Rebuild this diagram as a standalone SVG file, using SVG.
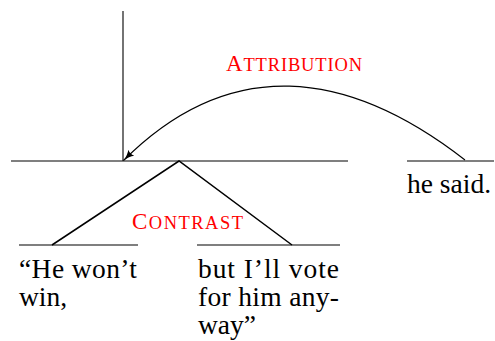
<svg xmlns="http://www.w3.org/2000/svg" width="495" height="341" viewBox="0 0 495 341">
<style>
.ln{stroke:#000;stroke-width:1.1;fill:none}
.tr{stroke:#000;stroke-width:1.5;fill:none}
.tx{font-family:"Liberation Serif","Times New Roman",serif;font-size:27.5px;fill:#000}
.rel{font-family:"Liberation Serif","Times New Roman",serif;fill:#ff0000}
.big{font-size:23px}
.sm{font-size:18.5px}
</style>
<defs>
<marker id="ah" markerWidth="12" markerHeight="10" refX="11" refY="5" orient="auto" markerUnits="userSpaceOnUse">
<path d="M0,0.8 Q4,4 11,5 Q4,6 0,9.2 Q2,5 0,0.8 Z" fill="#000"/>
</marker>
</defs>
<g id="connectors">
<line class="ln" x1="123" y1="11" x2="123" y2="161"/>
<line class="ln" x1="11" y1="161" x2="348" y2="161"/>
<line class="ln" x1="407" y1="161" x2="494" y2="161"/>
<line class="ln" x1="19" y1="245" x2="138" y2="245"/>
<line class="ln" x1="197" y1="245" x2="340" y2="245"/>
<polyline class="tr" points="52,245 179,161 292,245"/>
<path class="ln" d="M465,160 C346.6,67.9 229,55 123.5,160.5" marker-end="url(#ah)"/>
</g>
<g id="attribution-label">
<text class="rel" x="226" y="70.5" textLength="136" lengthAdjust="spacing"><tspan class="big">A</tspan><tspan class="sm">TTRIBUTION</tspan></text>
</g>
<g id="contrast-label">
<text class="rel" x="132" y="228.5" textLength="111" lengthAdjust="spacing"><tspan class="big">C</tspan><tspan class="sm">ONTRAST</tspan></text>
</g>
<g id="node-he-wont-win">
<text class="tx" x="19" y="278" textLength="118" lengthAdjust="spacing">“He won’t</text>
<text class="tx" x="19" y="306">win,</text>
</g>
<g id="node-but-ill-vote">
<text class="tx" x="198" y="278" textLength="141" lengthAdjust="spacing">but I’ll vote</text>
<text class="tx" x="198" y="306" textLength="141" lengthAdjust="spacing">for him any-</text>
<text class="tx" x="198" y="334">way”</text>
</g>
<g id="node-he-said">
<text class="tx" x="407" y="193">he said.</text>
</g>
</svg>
